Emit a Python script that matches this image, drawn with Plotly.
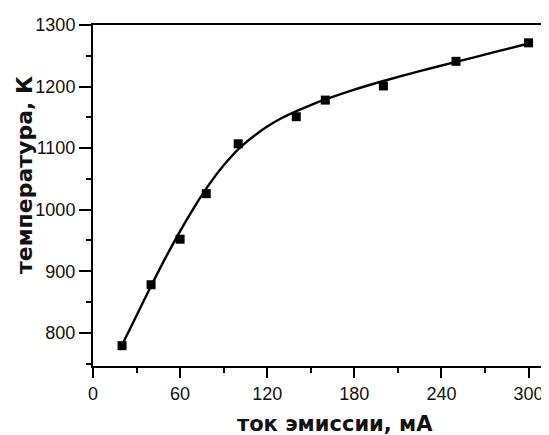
import plotly.graph_objects as go

# measured points
current_mA = [20, 40, 60, 78, 100, 140, 160, 200, 250, 300]
temperature_K = [779, 878, 952, 1026, 1107, 1151, 1178, 1201, 1241, 1271]

# fitted curve
fit_x = [20, 30, 40, 50, 60, 70, 80, 90, 100, 110, 120, 130, 140, 150, 160, 180, 200, 225, 250, 275, 300]
fit_y = [780, 828, 876, 922, 965, 1005, 1041, 1072, 1098, 1118, 1135, 1149, 1160, 1170, 1179, 1195, 1209, 1225, 1240, 1255, 1270]

x_ticks = [0, 60, 120, 180, 240, 300]
y_ticks = [800, 900, 1000, 1100, 1200, 1300]

x_title = "ток эмиссии, мА"
y_title = "температура, К"

tick_font = dict(family="Liberation Sans, Arial", size=18, color="#111")
title_font = dict(family="DejaVu Sans, Liberation Sans, Arial", size=21, color="#111")
ytitle_font = dict(family="DejaVu Sans, Liberation Sans, Arial", size=22, color="#111")

fig = go.Figure()
fig.add_trace(go.Scatter(x=fit_x, y=fit_y, mode="lines",
                         line=dict(color="black", width=2.4, shape="spline", smoothing=0.8),
                         hoverinfo="skip", showlegend=False))
fig.add_trace(go.Scatter(x=current_mA, y=temperature_K, mode="markers",
                         marker=dict(symbol="square", size=9, color="black"),
                         showlegend=False))

# the page has an 8px body margin, so margins are offset to compensate
fig.update_layout(
    width=549, height=435,
    margin=dict(l=85, r=11, t=17, b=77),
    paper_bgcolor="white", plot_bgcolor="white",
    xaxis=dict(range=[0, 312], tickvals=x_ticks, ticktext=[str(v) for v in x_ticks],
               automargin=False,
               showgrid=False, zeroline=False, showline=True, linecolor="black", linewidth=2,
               mirror=True, ticks="outside", ticklen=10, tickwidth=2, tickcolor="black",
               tickfont=tick_font,
               minor=dict(tickvals=[30, 90, 150, 210, 270], ticks="outside", ticklen=5,
                          tickwidth=2, tickcolor="black")),
    yaxis=dict(range=[746, 1300], tickvals=y_ticks, ticktext=[str(v) for v in y_ticks],
               automargin=False,
               showgrid=False, zeroline=False, showline=True, linecolor="black", linewidth=2,
               mirror=True, ticks="outside", ticklen=12, tickwidth=2, tickcolor="black",
               tickfont=tick_font,
               minor=dict(tickvals=[750, 850, 950, 1050, 1150, 1250], ticks="outside", ticklen=5,
                          tickwidth=2, tickcolor="black")),
    annotations=[
        dict(text="<b>" + y_title + "</b>", font=ytitle_font, textangle=-90,
             xref="paper", yref="paper", x=0, y=0.56, xshift=-69,
             xanchor="center", yanchor="middle", showarrow=False),
        dict(text="<b>" + x_title + "</b>", font=title_font,
             xref="x", yref="paper", x=167, y=0, yshift=-58,
             xanchor="center", yanchor="middle", showarrow=False),
    ],
)

fig.write_html("out.html")
